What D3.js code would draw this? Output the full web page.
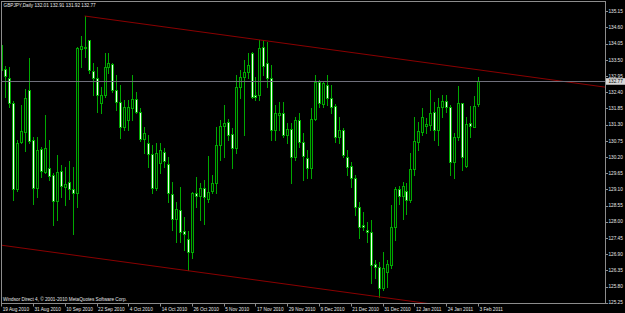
<!DOCTYPE html>
<html>
<head>
<meta charset="utf-8">
<script src="https://cdn.jsdelivr.net/npm/d3@7"></script>
<style>
  html, body { margin: 0; padding: 0; background: #000; }
  svg { display: block; }
  text { font-family: "Liberation Sans", Arial, sans-serif; font-size: 4.7px; fill: #e8e8e8; }
</style>
</head>
<body>
<svg id="chart" width="625" height="313"></svg>
<script>
(function () {
  // GBPJPY daily, 19 Aug 2010 .. 3 Feb 2011 (bar index 0..120)
  var openP = [134.00,133.18,132.89,132.04,129.11,130.72,131.06,132.48,130.78,129.16,
    130.46,129.70,129.81,129.59,128.70,129.72,129.19,129.36,129.10,128.96,
    133.86,133.93,134.17,133.13,132.87,132.02,132.31,133.27,133.36,132.48,
    132.08,131.23,131.46,131.85,132.16,131.74,130.80,130.69,130.30,129.13,
    129.98,130.38,129.96,128.94,128.08,128.40,127.68,127.41,126.98,128.99,
    128.87,129.13,128.77,129.05,129.30,130.61,131.25,131.40,130.98,130.52,
    132.59,132.91,133.10,133.72,132.30,132.31,133.93,133.40,132.89,131.12,
    131.63,131.68,130.95,131.14,130.19,131.46,130.72,130.15,129.81,131.49,
    132.76,132.00,132.65,132.19,131.93,130.89,131.12,130.21,129.90,129.50,
    128.51,127.89,127.72,127.66,126.55,126.45,125.74,126.30,126.53,127.81,
    129.11,128.89,129.05,128.74,129.78,130.72,131.06,131.27,131.29,131.74,
    131.12,131.89,132.09,131.89,130.04,130.87,132.02,129.89,131.34,131.23,
    132.01];
  var highP = [134.05,133.29,133.27,132.10,130.78,131.97,132.50,133.55,130.89,130.89,
    130.55,131.63,130.78,129.64,130.27,129.93,129.87,130.06,129.87,133.95,
    134.31,134.99,134.19,133.38,133.27,132.59,133.72,133.72,133.40,132.99,
    132.65,132.14,132.14,132.99,132.42,131.85,131.23,130.95,130.61,130.66,
    130.66,130.49,130.21,129.36,128.68,129.19,128.17,127.70,129.02,129.53,
    129.30,129.42,130.23,129.59,131.23,131.46,131.97,131.48,131.17,132.99,
    133.16,133.49,133.72,133.78,132.93,134.17,134.17,134.12,133.32,131.97,
    132.08,132.08,131.34,131.34,131.57,131.68,131.00,130.44,131.85,132.99,
    132.82,132.76,132.99,132.65,132.00,131.57,131.17,130.44,130.04,129.59,
    128.68,128.34,128.00,128.06,126.70,126.64,126.98,126.70,128.57,129.19,
    129.22,129.36,129.30,130.32,131.57,131.40,131.85,131.51,132.48,132.08,
    132.19,132.31,132.31,131.97,131.00,132.61,132.05,131.57,131.93,132.27,
    132.91];
  var lowP = [133.10,132.25,131.91,128.74,129.06,130.66,130.41,130.66,128.62,128.85,
    129.53,129.64,129.42,127.89,128.06,128.85,128.57,128.79,127.60,128.51,
    133.27,133.60,133.04,132.31,131.74,131.68,132.25,133.04,132.42,131.80,
    130.83,131.12,131.12,131.46,131.68,130.75,130.32,129.87,128.96,129.08,
    129.64,129.87,128.68,127.72,127.32,127.32,127.04,126.36,126.76,128.51,
    128.06,127.94,128.68,128.96,128.96,130.10,130.21,130.78,129.81,130.32,
    132.19,130.95,132.87,132.19,132.14,132.14,132.99,132.59,130.78,130.78,
    131.12,130.89,130.66,129.30,130.10,130.55,129.42,129.47,129.47,131.46,
    131.91,131.89,131.97,131.68,130.72,130.66,130.21,129.59,129.19,128.23,
    127.44,127.72,127.32,125.91,126.08,125.45,125.68,125.79,126.42,127.38,
    128.62,128.11,128.28,128.68,129.59,130.44,130.95,131.00,131.12,130.78,
    130.61,131.57,131.74,129.59,129.47,130.78,129.76,129.87,130.89,131.21,
    131.92];
  var closeP = [133.16,132.95,132.04,129.10,130.66,131.08,132.19,130.75,129.16,130.44,
    129.73,130.49,129.56,128.70,129.70,129.21,129.27,129.10,128.96,133.89,
    133.97,133.95,133.16,132.87,132.31,132.31,133.27,133.38,132.48,132.08,
    131.23,131.91,131.89,132.16,131.74,130.80,131.00,130.30,129.13,130.32,
    130.44,130.08,128.96,128.09,128.45,127.66,127.58,126.98,128.96,128.87,
    129.16,128.85,129.02,129.33,130.61,131.25,131.37,130.95,130.52,132.59,
    132.93,133.10,133.32,132.25,132.25,133.91,133.29,132.89,131.12,131.68,
    131.68,130.95,131.14,130.19,131.46,130.72,130.23,129.84,131.49,132.76,
    132.02,132.70,132.19,131.91,130.87,131.12,130.27,129.87,129.47,128.51,
    127.83,127.83,127.64,126.53,126.45,125.74,126.42,126.55,127.81,129.11,
    128.89,129.21,128.74,129.78,130.75,131.09,131.57,131.31,131.71,131.12,
    131.89,132.11,131.89,130.04,130.87,132.02,130.21,131.32,131.25,131.93,
    132.77];

  var dateTicks = [0, 8, 16, 24, 32, 40, 48, 56, 64, 72, 80, 88, 96, 104, 112, 120];
  var dateLabels = ["19 Aug 2010", "31 Aug 2010", "10 Sep 2010", "22 Sep 2010", "4 Oct 2010",
    "14 Oct 2010", "26 Oct 2010", "5 Nov 2010", "17 Nov 2010", "29 Nov 2010", "9 Dec 2010",
    "21 Dec 2010", "31 Dec 2010", "12 Jan 2011", "24 Jan 2011", "3 Feb 2011"];
  var priceTicks = [135.15, 134.60, 134.05, 133.50, 132.95, 132.40, 131.85, 131.30, 130.75,
    130.20, 129.65, 129.10, 128.55, 128.00, 127.45, 126.90, 126.35, 125.80, 125.25];
  var lastPrice = 132.77;
  // channel lines: [bar, price] end points
  var upperTrend = [[21, 134.99], [152.2, 132.57]];
  var lowerTrend = [[-0.3, 127.21], [107.5, 125.22]];

  var bars = d3.range(openP.length).map(function (i) {
    return {i: i, o: openP[i], h: highP[i], l: lowP[i], c: closeP[i]};
  });

  var svg = d3.select('#chart');
  var left = 1.5, right = 605.5, top = 1.5, bottom = 303.5;

  var x = d3.scaleLinear().domain([0, 120]).range([1.2, 478]);
  var y = d3.scaleLinear().domain([125.25, 135.15]).range([302.7, 11.3]);

  svg.append('rect').attr('width', 625).attr('height', 313).attr('fill', '#000');

  svg.append('clipPath').attr('id', 'plot-clip')
    .append('rect')
    .attr('x', left + 0.5).attr('y', top + 0.5)
    .attr('width', right - left - 1).attr('height', bottom - top - 1);

  var plot = svg.append('g').attr('clip-path', 'url(#plot-clip)');

  // wicks
  plot.selectAll('.wick')
    .data(bars)
    .enter()
    .append('line')
    .attr('class', 'wick')
    .attr('x1', function (d) { return Math.round(x(d.i)) + 0.5; })
    .attr('x2', function (d) { return Math.round(x(d.i)) + 0.5; })
    .attr('y1', function (d) { return Math.round(y(d.h)); })
    .attr('y2', function (d) { return Math.round(y(d.l)) + 1; })
    .attr('stroke', '#00a800')
    .attr('stroke-width', 1);

  // bodies: hollow for up days, white for down days
  plot.selectAll('.body')
    .data(bars)
    .enter()
    .append('rect')
    .attr('class', 'body')
    .attr('x', function (d) { return Math.round(x(d.i)) - 0.5; })
    .attr('y', function (d) { return Math.round(y(Math.max(d.o, d.c))) + 0.5; })
    .attr('width', 2)
    .attr('height', function (d) {
      return Math.max(Math.round(y(Math.min(d.o, d.c))) - Math.round(y(Math.max(d.o, d.c))), 1);
    })
    .attr('fill', function (d) { return d.c >= d.o ? '#001400' : '#f0fff0'; })
    .attr('stroke', '#00a800')
    .attr('stroke-width', 1);

  // channel lines
  var line = d3.line()
    .x(function (d) { return x(d[0]); })
    .y(function (d) { return y(d[1]); });
  plot.selectAll('.trend')
    .data([upperTrend, lowerTrend])
    .enter()
    .append('path')
    .attr('class', 'trend')
    .attr('d', line)
    .attr('fill', 'none')
    .attr('stroke', '#8a0000')
    .attr('stroke-width', 1);

  // bid line
  var bidY = Math.round(y(lastPrice)) + 0.5;
  svg.append('line')
    .attr('x1', left).attr('x2', right)
    .attr('y1', bidY).attr('y2', bidY)
    .attr('stroke', '#70707c')
    .attr('stroke-width', 1);

  // frame
  svg.append('rect')
    .attr('x', left).attr('y', top)
    .attr('width', right - left).attr('height', bottom - top)
    .attr('fill', 'none')
    .attr('stroke', '#8c8c8c')
    .attr('stroke-width', 1);

  // price axis
  var yAxis = svg.append('g');
  yAxis.selectAll('.ytick')
    .data(priceTicks)
    .enter()
    .append('line')
    .attr('class', 'ytick')
    .attr('x1', right).attr('x2', right + 2.5)
    .attr('y1', function (d) { return Math.round(y(d)) + 0.5; })
    .attr('y2', function (d) { return Math.round(y(d)) + 0.5; })
    .attr('stroke', '#8c8c8c');
  yAxis.selectAll('.ylabel')
    .data(priceTicks)
    .enter()
    .append('text')
    .attr('class', 'ylabel')
    .attr('x', 608.5)
    .attr('y', function (d) { return y(d) + 1.7; })
    .text(function (d) { return d.toFixed(2); });

  // last price tag
  svg.append('rect')
    .attr('x', right + 0.5).attr('y', y(lastPrice) - 3.2)
    .attr('width', 625 - right).attr('height', 6.6)
    .attr('fill', '#d8d8d8');
  svg.append('text')
    .attr('x', 608.5).attr('y', y(lastPrice) + 1.7)
    .style('fill', '#000')
    .text(lastPrice.toFixed(2));

  // date axis
  var xAxis = svg.append('g');
  xAxis.selectAll('.xtick')
    .data(dateTicks)
    .enter()
    .append('line')
    .attr('class', 'xtick')
    .attr('x1', function (d) { return Math.round(x(d)) + 0.5; })
    .attr('x2', function (d) { return Math.round(x(d)) + 0.5; })
    .attr('y1', bottom).attr('y2', bottom + 3)
    .attr('stroke', '#8c8c8c');
  xAxis.selectAll('.xlabel')
    .data(dateTicks)
    .enter()
    .append('text')
    .attr('class', 'xlabel')
    .attr('x', function (d) { return x(d) + 1.5; })
    .attr('y', 310.5)
    .text(function (d, i) { return dateLabels[i]; });

  // header and footer
  svg.append('text')
    .attr('x', 3.5).attr('y', 7.2)
    .text('GBPJPY,Daily  ' + [openP[120], highP[120], lowP[120], closeP[120]].map(function (v) { return v.toFixed(2); }).join(' '));
  svg.append('text')
    .attr('x', 3).attr('y', 301)
    .text('Windsor Direct 4, \u00a9 2001-2010 MetaQuotes Software Corp.');
})();
</script>
</body>
</html>
